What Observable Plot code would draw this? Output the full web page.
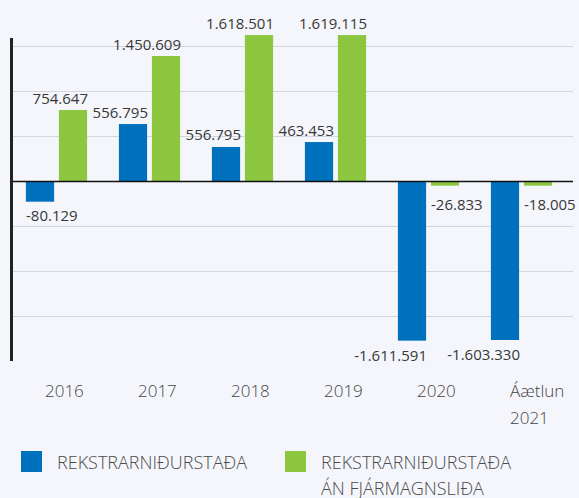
<!DOCTYPE html>
<html>
<head>
<meta charset="utf-8">
<script src="https://cdn.jsdelivr.net/npm/d3@7"></script>
<script src="https://cdn.jsdelivr.net/npm/@observablehq/plot@0.6"></script>
<style>
  html, body { margin: 0; padding: 0; background: #f5f6fb; }
  #wrap { position: relative; width: 579px; height: 498px; background: #f5f6fb; font-family: "Open Sans", sans-serif; overflow: hidden; }
  .sw { position: absolute; width: 21px; height: 21px; top: 451px; }
  .lt { position: absolute; top: 449px; font-size: 18px; line-height: 26px; font-weight: 300; color: #4a4a4a; white-space: nowrap; }
</style>
</head>
<body>
<div id="wrap"></div>
<script>
// ---- data ----
const years = ["2016", "2017", "2018", "2019", "2020", "2021"];
const yearLabels = ["2016", "2017", "2018", "2019", "2020", "Áætlun\n2021"];
const seriesNames = ["REKSTRARNIÐURSTAÐA", "REKSTRARNIÐURSTAÐA\nÁN FJÁRMAGNSLIÐA"];
// bar heights as drawn in the picture
const blueValues = [-230000, 633000, 378000, 433000, -1774000, -1767000];
const greenValues = [789000, 1389000, 1622000, 1622000, -52000, -52000];
// printed value labels
const blueLabels = ["-80.129", "556.795", "556.795", "463.453", "-1.611.591", "-1.603.330"];
const greenLabels = ["754.647", "1.450.609", "1.618.501", "1.619.115", "-26.833", "-18.005"];
const gridValues = [-1500000, -1000000, -500000, 500000, 1000000, 1500000];

const blueColor = "#0071bc";
const greenColor = "#8dc63f";

const blue = years.map((y, i) => ({year: y, value: blueValues[i], label: blueLabels[i]}));
const green = years.map((y, i) => ({year: y, value: greenValues[i], label: greenLabels[i]}));
const labelOf = new Map(years.map((y, i) => [y, yearLabels[i]]));

const chart = Plot.plot({
  width: 579,
  height: 440,
  marginTop: 39,
  marginBottom: 81,
  marginLeft: 11,
  marginRight: 6,
  style: {fontFamily: "Open Sans, sans-serif", background: "#f5f6fb", overflow: "visible"},
  x: {type: "band", domain: years, range: [7, 570], padding: 0},
  y: {domain: [-1978000, 1578000], axis: null},
  marks: [
    Plot.ruleY(gridValues, {stroke: "#d5d6dc", strokeWidth: 1.2}),
    Plot.barY(blue, {x: "year", y: "value", fill: blueColor, insetLeft: 15.9, insetRight: 48.9}),
    Plot.barY(green, {x: "year", y: "value", fill: greenColor, insetLeft: 48.9, insetRight: 15.9}),
    Plot.ruleY([0], {stroke: "#111", strokeWidth: 1.3}),
    Plot.frame({anchor: "left", stroke: "#222", strokeWidth: 3}),
    // positive labels: right-aligned to bar right edge
    Plot.text(blue, {filter: d => d.value > 0, x: "year", y: "value", text: "label", textAnchor: "end", lineAnchor: "bottom", dx: -2, dy: -7, fontSize: 15, fill: "#383838"}),
    Plot.text(green, {filter: d => d.value > 0, x: "year", y: "value", text: "label", textAnchor: "end", lineAnchor: "bottom", dx: 31, dy: -7, fontSize: 15, fill: "#383838"}),
    // negative labels
    Plot.text(blue, {filter: d => d.value < 0 && d.value > -1000000, x: "year", y: "value", text: "label", textAnchor: "start", lineAnchor: "top", dx: -31, dy: 8, fontSize: 15, fill: "#383838"}),
    Plot.text(blue, {filter: d => d.value <= -1000000, x: "year", y: "value", text: "label", textAnchor: "end", lineAnchor: "top", dx: -2, dy: 9, fontSize: 15, fill: "#383838"}),
    Plot.text(green, {filter: d => d.value < 0, x: "year", y: "value", text: "label", textAnchor: "start", lineAnchor: "top", dx: 2, dy: 13, fontSize: 15, fill: "#383838"}),
    Plot.axisX({tickSize: 0, tickPadding: 18, fontSize: 17, fontWeight: 300, textAnchor: "start", dx: -12, lineHeight: 1.6, fill: "#444", tickFormat: d => labelOf.get(d), label: null})
  ]
});

const wrap = document.getElementById("wrap");
wrap.appendChild(chart);

// legend (HTML, below the SVG area)
const legendItems = [
  {name: seriesNames[0], color: blueColor, sx: 21, tx: 57},
  {name: seriesNames[1], color: greenColor, sx: 285, tx: 321}
];
for (const it of legendItems) {
  const s = document.createElement("div");
  s.className = "sw";
  s.style.left = it.sx + "px";
  s.style.background = it.color;
  wrap.appendChild(s);
  const t = document.createElement("div");
  t.className = "lt";
  t.style.left = it.tx + "px";
  t.innerHTML = it.name.split("\n").join("<br>");
  wrap.appendChild(t);
}
const svg = wrap.querySelector("svg");
svg.style.position = "absolute";
svg.style.left = "0px";
svg.style.top = "0px";
</script>
</body>
</html>
